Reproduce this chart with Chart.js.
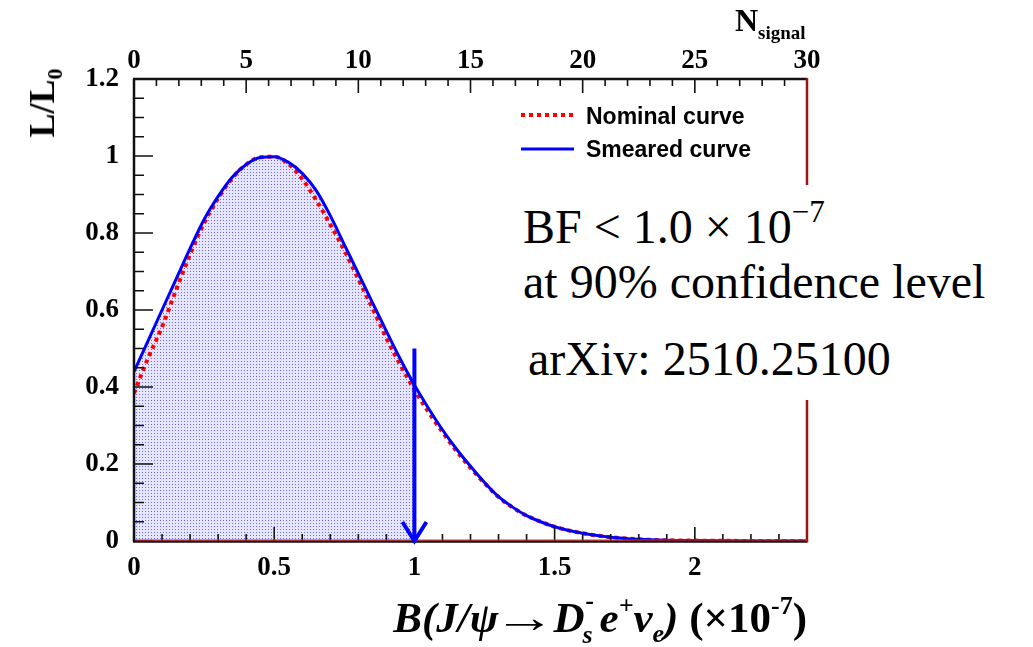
<!DOCTYPE html>
<html><head><meta charset="utf-8">
<script src="https://cdn.jsdelivr.net/npm/chart.js@4.4.1/dist/chart.umd.min.js"></script>
<style>
html,body{margin:0;padding:0;background:#fff;}
#wrap{position:relative;width:1033px;height:647px;overflow:hidden;background:#fff;}
#c{position:absolute;left:0;top:0;}
.ov{position:absolute;white-space:nowrap;color:#000;line-height:1;}
#ytitle{left:42px;top:103px;transform:translate(-50%,-50%) rotate(-90deg);font:bold 36px "Liberation Serif";}
#ytitle .s{font-size:22px;position:relative;top:8px;}
#ntitle{left:735px;top:2px;font:bold 32px "Liberation Serif";}
#ntitle .s{font-size:19px;position:relative;top:8px;}
#xtitle{right:226px;top:589px;font:bold italic 43px "Liberation Serif";}
#xtitle .up{font-style:normal;}
#xtitle .arr{display:inline-block;font-style:normal;font-weight:normal;transform:scaleX(1.45);margin:0 7px 0 5px;}
#xtitle .sp{font-size:26px;position:relative;top:-18px;}
#xtitle .sb{font-size:26px;position:relative;top:10px;}
#xtitle .ss{display:inline-block;position:relative;width:15px;height:43px;}
#xtitle .ss .a{position:absolute;left:1px;top:-3px;font-size:26px;}
#xtitle .ss .b{position:absolute;left:-2px;top:31px;font-size:26px;}
#anno{left:512px;top:185px;width:521px;height:215px;background:#fff;}
.al{position:absolute;font:48px "Liberation Serif";white-space:nowrap;line-height:1;}
.al .sp{font-size:31px;position:relative;top:-21px;}
</style>
</head><body>
<div id="wrap">
<canvas id="c" width="1033" height="647"></canvas>
<div id="ytitle" class="ov">L/L<span class="s">0</span></div>
<div id="ntitle" class="ov">N<span class="s">signal</span></div>
<div id="xtitle" class="ov">B(J/ψ<span class="arr">→</span>D<span class="ss"><span class="a">-</span><span class="b">s</span></span>e<span class="sp">+</span>ν<span class="sb">e</span>) <span class="up">(×10<span class="sp">-7</span>)</span></div>
<div id="anno" class="ov">
  <div class="al" style="left:11px;top:18px;">BF &lt; 1.0 × 10<span class="sp">−7</span></div>
  <div class="al" style="left:11px;top:73px;">at 90% confidence level</div>
  <div class="al" style="left:16px;top:150px;">arXiv: 2510.25100</div>
</div>
</div>
<script>
// ---- data ----
const branching = [0, 0.05, 0.1, 0.15, 0.2, 0.25, 0.3, 0.35, 0.4, 0.45, 0.5, 0.55, 0.6, 0.65, 0.7, 0.75, 0.8, 0.85, 0.9, 0.95, 1.0, 1.05, 1.1, 1.15, 1.2, 1.25, 1.3, 1.35, 1.4, 1.45, 1.5, 1.6, 1.7, 1.8, 1.9, 2.0, 2.1, 2.2, 2.3, 2.4];
const smeared  = [0.44, 0.52, 0.60, 0.68, 0.76, 0.835, 0.895, 0.945, 0.978, 0.996, 0.998, 0.984, 0.955, 0.91, 0.845, 0.77, 0.695, 0.62, 0.545, 0.472, 0.405, 0.345, 0.289, 0.239, 0.194, 0.152, 0.115, 0.088, 0.066, 0.05, 0.037, 0.02, 0.01, 0.0045, 0.002, 0.001, 0.0005, 0.0002, 0.0001, 0];
const nominal  = [0.384, 0.475, 0.556, 0.652, 0.745, 0.826, 0.89, 0.942, 0.978, 0.997, 0.998, 0.98, 0.94, 0.885, 0.822, 0.755, 0.68, 0.605, 0.527, 0.457, 0.393, 0.335, 0.283, 0.234, 0.19, 0.15, 0.114, 0.087, 0.066, 0.05, 0.037, 0.02, 0.01, 0.0045, 0.002, 0.001, 0.0005, 0.0002, 0.0001, 0];
const upperLimit = 1.0;      // 90% CL limit (x1e-7)
const arrowTop = 0.5;        // arrow starts at L/L0 = 0.5
const xTicks = [0, 0.5, 1, 1.5, 2];
const yTicks = [0, 0.2, 0.4, 0.6, 0.8, 1, 1.2];
const nTicks = [0, 5, 10, 15, 20, 25, 30];
const xRange = [0, 2.4];
const yRange = [0, 1.2];
const nRange = [0, 30];
const legendLabels = ['Nominal curve', 'Smeared curve'];

// ---- fill pattern (dotted light blue) ----
const pc = document.createElement('canvas');
pc.width = 3; pc.height = 3;
const pctx = pc.getContext('2d');
pctx.fillStyle = 'rgb(230,230,255)'; pctx.fillRect(0,0,3,3);
pctx.fillStyle = 'rgb(105,105,252)'; pctx.fillRect(1,1,1,1);
const ctx0 = document.getElementById('c').getContext('2d');
const pattern = ctx0.createPattern(pc, 'repeat');

const toPts = (ys) => branching.map((b, i) => ({x: b, y: ys[i]}));
const fillPts = branching.map((b, i) => ({x: b, y: smeared[i]})).filter(p => p.x <= upperLimit);

const tickFont = {family: '"Liberation Serif"', size: 27, weight: 'bold'};

const framePlugin = {
  id: 'frame',
  afterDatasetsDraw(chart) {
    const {ctx, chartArea: a, scales} = chart;
    const sx = scales.x, sy = scales.y, st = scales.xTop;
    ctx.save();
    ctx.setLineDash([]);
    // ticks (inward)
    ctx.strokeStyle = '#111'; ctx.lineWidth = 1.6;
    ctx.beginPath();
    for (let i = 0; i <= 24; i++) {
      const py = sy.getPixelForValue(i * 0.05);
      const len = (i % 4 === 0) ? 19 : 10;
      ctx.moveTo(a.left, py); ctx.lineTo(a.left + len, py);
    }
    for (let i = 0; i <= 24; i++) {
      const px = sx.getPixelForValue(i * 0.1);
      const len = (i % 5 === 0) ? 14 : 7;
      ctx.moveTo(px, a.bottom); ctx.lineTo(px, a.bottom - len);
    }
    for (let i = 0; i <= 30; i++) {
      const px = st.getPixelForValue(i);
      const len = (i % 5 === 0) ? 14 : 7;
      ctx.moveTo(px, a.top); ctx.lineTo(px, a.top + len);
    }
    ctx.stroke();
    // frame
    ctx.lineWidth = 2.5;
    ctx.strokeStyle = '#111';
    ctx.beginPath();
    ctx.moveTo(a.left - 1, a.top); ctx.lineTo(a.right, a.top);
    ctx.moveTo(a.left, a.top); ctx.lineTo(a.left, a.bottom + 1);
    ctx.moveTo(a.left - 1, a.bottom + 0.5); ctx.lineTo(a.right, a.bottom + 0.5);
    ctx.stroke();
    ctx.strokeStyle = '#9b1414';
    ctx.beginPath(); ctx.moveTo(a.right, a.top - 1); ctx.lineTo(a.right, a.bottom + 1.5); ctx.stroke();
    ctx.strokeStyle = '#ff2020'; ctx.lineWidth = 1.2;
    ctx.beginPath(); ctx.moveTo(a.left + 1, a.bottom - 1); ctx.lineTo(a.right, a.bottom - 1); ctx.stroke();
    // arrow at upper limit
    const ax = sx.getPixelForValue(upperLimit);
    const ay0 = sy.getPixelForValue(arrowTop), ay1 = sy.getPixelForValue(0);
    ctx.strokeStyle = '#0000ff'; ctx.lineWidth = 4; ctx.lineCap = 'butt';
    ctx.beginPath(); ctx.moveTo(ax, ay0); ctx.lineTo(ax, ay1); ctx.stroke();
    ctx.beginPath(); ctx.moveTo(ax - 12, ay1 - 19); ctx.lineTo(ax, ay1); ctx.lineTo(ax + 12, ay1 - 19); ctx.stroke();
    // legend
    ctx.lineWidth = 4; ctx.strokeStyle = '#ff0000'; ctx.setLineDash([4, 4]);
    ctx.beginPath(); ctx.moveTo(521, 115); ctx.lineTo(574, 115); ctx.stroke();
    ctx.setLineDash([]); ctx.lineWidth = 3; ctx.strokeStyle = '#0000ff';
    ctx.beginPath(); ctx.moveTo(521, 149); ctx.lineTo(574, 149); ctx.stroke();
    ctx.fillStyle = '#000'; ctx.font = 'bold 23px "Liberation Sans"'; ctx.textBaseline = 'alphabetic';
    ctx.fillText(legendLabels[0], 586, 124);
    ctx.fillText(legendLabels[1], 586, 157);
    ctx.restore();
  }
};

new Chart(ctx0, {
  type: 'line',
  data: {
    datasets: [
      {label: 'Smeared curve', data: toPts(smeared), borderColor: '#0000ff', borderWidth: 3, pointRadius: 0, fill: false, cubicInterpolationMode: 'monotone', order: 0},
      {label: 'Nominal curve', data: toPts(nominal), borderColor: '#ff0000', borderWidth: 4, borderDash: [4, 4], pointRadius: 0, fill: false, cubicInterpolationMode: 'monotone', order: 1},
      {label: 'area', data: fillPts, borderWidth: 0, borderColor: 'rgba(0,0,0,0)', backgroundColor: pattern, pointRadius: 0, fill: 'origin', cubicInterpolationMode: 'monotone', order: 2}
    ]
  },
  options: {
    responsive: false,
    animation: false,
    events: [],
    layout: {padding: {left: 0, right: 226, top: 0, bottom: 0}},
    plugins: {legend: {display: false}, tooltip: {enabled: false}},
    scales: {
      x: {
        type: 'linear', position: 'bottom', min: xRange[0], max: xRange[1],
        grid: {display: false, drawTicks: false}, border: {display: false},
        afterBuildTicks: (s) => { s.ticks = xTicks.map(v => ({value: v})); },
        afterFit: (s) => { s.height = 106; },
        ticks: {font: tickFont, color: '#000', padding: 11, maxRotation: 0, callback: (v) => String(v)}
      },
      xTop: {
        type: 'linear', axis: 'x', position: 'top', min: nRange[0], max: nRange[1],
        grid: {display: false, drawTicks: false}, border: {display: false},
        afterBuildTicks: (s) => { s.ticks = nTicks.map(v => ({value: v})); },
        afterFit: (s) => { s.height = 79; },
        ticks: {font: tickFont, color: '#000', padding: 2, maxRotation: 0, callback: (v) => String(v)}
      },
      y: {
        type: 'linear', position: 'left', min: yRange[0], max: yRange[1],
        grid: {display: false, drawTicks: false}, border: {display: false},
        afterBuildTicks: (s) => { s.ticks = yTicks.map(v => ({value: v})); },
        afterFit: (s) => { s.width = 134; },
        ticks: {font: tickFont, color: '#000', padding: 15, callback: (v) => String(+v.toFixed(1))}
      }
    }
  },
  plugins: [framePlugin]
});
</script>
</body></html>
